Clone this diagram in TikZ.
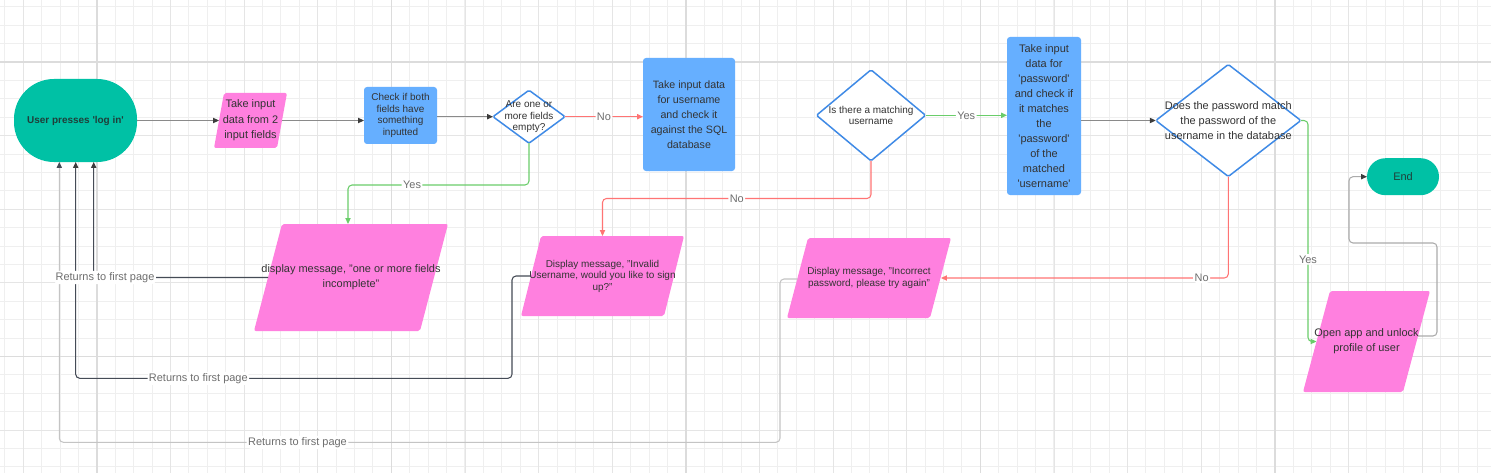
\documentclass[tikz,border=0pt]{standalone}
\usepackage{fontspec}
\setmainfont{Liberation Sans}
\usetikzlibrary{shapes.geometric,arrows.meta}
\newlength{\pxu}
\setlength{\pxu}{0.02cm}
\newcommand{\sq}{\textquotesingle}
\definecolor{tealC}{HTML}{00C1A5}
\definecolor{pinkC}{HTML}{FF80DF}
\definecolor{blueC}{HTML}{66AFFF}
\definecolor{diaC}{HTML}{3F8AE6}
\definecolor{redC}{HTML}{FF7474}
\definecolor{greenC}{HTML}{6ACD6A}
\definecolor{lineC}{HTML}{8A8A8A}
\definecolor{darkC}{HTML}{454B56}
\definecolor{lightC}{HTML}{C4C4C4}
\definecolor{greyC}{HTML}{ABABAB}
\definecolor{tipC}{HTML}{3C3C3C}
\definecolor{txtC}{HTML}{333333}
\definecolor{termTxt}{HTML}{1F3F3A}
\definecolor{lblC}{HTML}{6E6E6E}
\definecolor{gMinor}{HTML}{EFEFEF}
\definecolor{gMid}{HTML}{E5E5E5}
\definecolor{gMajor}{HTML}{DCDCDC}
\begin{document}
\begin{tikzpicture}[x=0.02cm,y=-0.02cm,
  every node/.style={inner sep=0pt, outer sep=0pt},
  gminor/.style={draw=gMinor, line width=0.5pt},
  gmid/.style={draw=gMid, line width=0.6pt},
  gmajor/.style={draw=gMajor, line width=0.65pt},
  term/.style={rectangle, fill=tealC, text=termTxt, align=center},
  blueb/.style={rectangle, fill=blueC, rounded corners=3\pxu, text=txtC, align=center},
  dia/.style={diamond, draw=diaC, line width=0.85pt, fill=white, rounded corners=1.5\pxu},
  dtxt/.style={text=txtC, align=center},
  pgl/.style={rectangle, align=center, text=txtC,
    path picture={\fill[pinkC, rounded corners=2\pxu]
      ([xshift=#1]path picture bounding box.north west) --
      (path picture bounding box.north east) --
      ([xshift=-#1]path picture bounding box.south east) --
      (path picture bounding box.south west) -- cycle;}},
  fA/.style={font=\fontsize{6.24pt}{8.5pt}\selectfont},
  fB/.style={font=\fontsize{6.24pt}{8.79pt}\selectfont},
  fC/.style={font=\fontsize{5.67pt}{6.52pt}\selectfont},
  fD/.style={font=\fontsize{5.67pt}{6.63pt}\selectfont},
  fE/.style={font=\fontsize{5.67pt}{6.24pt}\selectfont},
  fF/.style={font=\fontsize{6.07pt}{8.5pt}\selectfont},
  lbl/.style={fill=white, inner sep=0.8pt, text=lblC, font=\fontsize{6.24pt}{7pt}\selectfont},
  flow/.style={draw=lineC, line width=0.6pt, rounded corners=4\pxu, -{Triangle[length=3.4pt,width=3pt,color=tipC]}},
  redf/.style={draw=redC, line width=0.6pt, rounded corners=4\pxu, -{Triangle[length=3.4pt,width=3pt,color=redC]}},
  greenf/.style={draw=greenC, line width=0.6pt, rounded corners=4\pxu, -{Triangle[length=3.4pt,width=3pt,color=greenC]}},
  greyf/.style={draw=greyC, line width=0.6pt, rounded corners=4\pxu, -{Triangle[length=3.4pt,width=3pt,color=tipC]}},
  retD/.style={draw=darkC, line width=0.6pt, rounded corners=4\pxu, -{Triangle[length=3.4pt,width=3pt,color=tipC]}},
  retL/.style={draw=lightC, line width=0.6pt, rounded corners=4\pxu, -{Triangle[length=3.4pt,width=3pt,color=darkC]}}
]
\useasboundingbox (0,0) rectangle (1491,473);
\fill[white] (0,0) rectangle (1491,473);
% grid
\foreach \i in {0,...,80} { \draw[gminor] ({4.8+18.405*\i},0) -- ({4.8+18.405*\i},473); }
\foreach \i in {0,...,25} { \draw[gminor] (0,{6.8+18.405*\i}) -- (1491,{6.8+18.405*\i}); }
\foreach \k in {-1,...,18} { \draw[gmid] ({97+73.62*\k},0) -- ({97+73.62*\k},473); }
\foreach \k in {0,...,5} { \draw[gmid] (0,{62+73.62*\k}) -- (1491,{62+73.62*\k}); }
\foreach \k in {0,...,4} { \draw[gmajor] ({97+294.5*\k},0) -- ({97+294.5*\k},473); }
\foreach \k in {0,1} { \draw[gmajor] (0,{62+294.5*\k}) -- (1491,{62+294.5*\k}); }

% nodes
\node[term, rounded corners=40\pxu, minimum width=123\pxu, minimum height=83\pxu,
  font=\fontsize{5.67pt}{7pt}\selectfont\bfseries] (start) at (75.5,120.5) {User presses \sq log in\sq};
\node[pgl=10\pxu, fB, minimum width=73\pxu, minimum height=55\pxu] (n2) at (250.5,120.5)
  {Take input\\data from 2\\input fields};
\node[blueb, fC, minimum width=73\pxu, minimum height=57\pxu] (n3) at (400.5,115.5)
  {Check if both\\fields have\\something\\inputted};
\node[dia, minimum width=72\pxu, minimum height=53\pxu,
  label={[dtxt,fD]center:{Are one or\\more fields\\empty?}}] (d4) at (529,116.7) {};
\node[blueb, fF, minimum width=92\pxu, minimum height=113\pxu] (n5) at (689,114.5)
  {Take input data\\for username\\and check it\\against the SQL\\database};
\node[dia, minimum width=109\pxu, minimum height=91\pxu,
  label={[dtxt,fE]center:{Is there a matching\\username}}] (d6) at (871,115.3) {};
\node[blueb, fA, minimum width=74\pxu, minimum height=158\pxu] (n7) at (1044,116)
  {Take input\\data for\\\sq password\sq\\and check if\\it matches\\the\\\sq password\sq\\of the\\matched\\\sq username\sq};
\node[dia, minimum width=145\pxu, minimum height=112\pxu,
  label={[dtxt,fA]center:{Does the password match\\the password of the\\username in the database}}] (d8) at (1228.3,120.5) {};
\node[term, rounded corners=18.5\pxu, minimum width=72\pxu, minimum height=37\pxu, fA] (endn) at (1403,176.7) {End};
\node[pgl=28\pxu, fA, minimum width=194\pxu, minimum height=107\pxu] (n10) at (351,277.5)
  {display message, "one or more fields\\incomplete"};
\node[pgl=20\pxu, fC, minimum width=163\pxu, minimum height=80\pxu] (n11) at (602.5,276)
  {Display message, "Invalid\\Username, would you like to sign\\up?"};
\node[pgl=21\pxu, fD, minimum width=164\pxu, minimum height=80\pxu] (n12) at (869,278)
  {Display message, "Incorrect\\password, please try again"};
\node[pgl=27\pxu, fA, minimum width=127\pxu, minimum height=101\pxu] (n13) at (1366.5,341.5)
  {Open app and unlock\\profile of user};

% connectors
\draw[flow] (start.east) -- ([xshift=5\pxu]n2.west);
\draw[flow] ([xshift=-5\pxu]n2.east) -- (n3.west |- n2.east);
\draw[flow] (n3.east |- d4.west) -- (d4.west);
\draw[redf] (d4.east) -- node[lbl] (lno1) {No} (n5.west |- d4.east);
\draw[greenf] (d4.south) -- (d4.south |- 0,185) -- node[lbl,pos=0.646] (lyes1) {Yes} (348,185) -- ([xshift=-3\pxu]n10.north);
\draw[greenf] (d6.east) -- node[lbl] (lyes2) {Yes} (n7.west |- d6.east);
\draw[redf] (d6.south) -- (d6.south |- 0,198.5) -- node[lbl] (lno2) {No} (n11.north |- 0,198.5) -- (n11.north);
\draw[flow] (n7.east |- d8.west) -- (d8.west);
\draw[redf] (d8.south) -- (d8.south |- 0,278) -- node[lbl,pos=0.093] (lno3) {No} ([xshift=-10\pxu]n12.east);
\draw[greenf] (d8.east) -- (d8.east -| 1308,0) -- node[lbl,pos=0.628] (lyes3) {Yes} (1308,341.5) -- ([xshift=13.5\pxu]n13.west);
\draw[greyf] ([xshift=-12\pxu,yshift=5.5\pxu]n13.east) -- (1437,336) -- (1437,243) -- (1349,243) -- (1349,176.7) -- (endn.west);

% returns
\draw[retL] ([xshift=10.5\pxu,yshift=-1\pxu]n12.west) -- (780,279) -- (780,442.3) -- node[lbl,pos=0.6695] (lret3) {Returns to first page} (59.3,442.3) -- (start.south -| 59.3,0);
\draw[retD] ([xshift=10\pxu]n11.west) -- (512,276) -- (512,378.3) -- node[lbl,pos=0.719] (lret2) {Returns to first page} (75.7,378.3) -- (start.south -| 75.7,0);
\draw[retD] ([xshift=14\pxu]n10.west) -- node[lbl,pos=0.935] (lret1) {Returns to first page} (93.7,277.5) -- (start.south -| 93.7,0);
\end{tikzpicture}
\end{document}
